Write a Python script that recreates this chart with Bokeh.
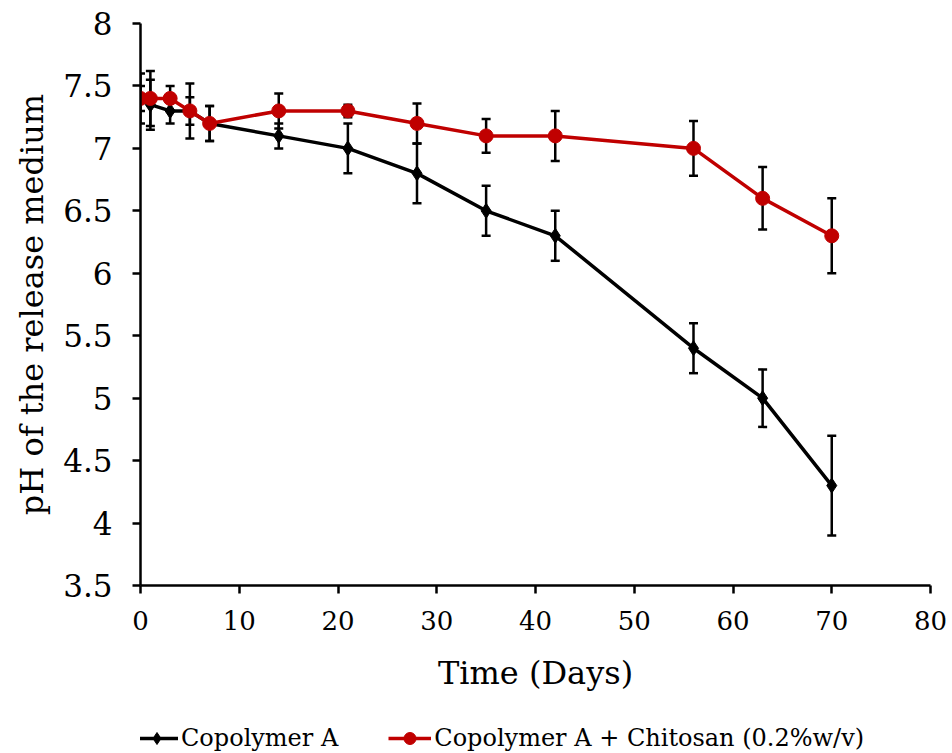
from bokeh.plotting import figure
from bokeh.layouts import column
from bokeh.models import (ColumnDataSource, Range1d, FixedTicker, Whisker, TeeHead,
                          Legend, LegendItem)
from bokeh.embed import file_html
from bokeh.resources import INLINE

# Sampling days
days = [0, 1, 3, 5, 7, 14, 21, 28, 35, 42, 56, 63, 70]

# Copolymer A: mean pH and standard deviation
ph_copolymer = [7.4, 7.35, 7.3, 7.3, 7.2, 7.1, 7.0, 6.8, 6.5, 6.3, 5.4, 5.0, 4.3]
sd_copolymer = [0.2, 0.2, 0.1, 0.11, 0.14, 0.1, 0.2, 0.24, 0.2, 0.2, 0.2, 0.23, 0.4]

# Copolymer A + Chitosan (0.2% w/v): mean pH and standard deviation
ph_chitosan = [7.4, 7.4, 7.4, 7.3, 7.2, 7.3, 7.3, 7.2, 7.1, 7.1, 7.0, 6.6, 6.3]
sd_chitosan = [0.1, 0.22, 0.1, 0.22, 0.14, 0.14, 0.05, 0.16, 0.135, 0.2, 0.22, 0.25, 0.3]

series_names = ["Copolymer A", "Copolymer A + Chitosan (0.2%w/v)"]

x_ticks = [0, 10, 20, 30, 40, 50, 60, 70, 80]
y_ticks = [3.5, 4, 4.5, 5, 5.5, 6, 6.5, 7, 7.5, 8]
y_tick_labels = ["3.5", "4", "4.5", "5", "5.5", "6", "6.5", "7", "7.5", "8"]

FONT = "DejaVu Serif"
RED = "#C00000"
W = 952
H_MAIN = 703
H_LEGEND = 50

src_a = ColumnDataSource(dict(
    x=days, y=ph_copolymer,
    lo=[m - s for m, s in zip(ph_copolymer, sd_copolymer)],
    hi=[m + s for m, s in zip(ph_copolymer, sd_copolymer)],
))
src_b = ColumnDataSource(dict(
    x=days, y=ph_chitosan,
    lo=[m - s for m, s in zip(ph_chitosan, sd_chitosan)],
    hi=[m + s for m, s in zip(ph_chitosan, sd_chitosan)],
))

p = figure(width=W, height=H_MAIN, output_backend="svg", toolbar_location=None,
           x_range=Range1d(0, 80), y_range=Range1d(3.5, 8),
           min_border_left=140, min_border_right=22, min_border_top=23,
           min_border_bottom=H_MAIN - 585)
p.outline_line_color = None
p.xgrid.visible = False
p.ygrid.visible = False
p.background_fill_color = "white"
p.border_fill_color = "white"

# Axes
for ax in (p.xaxis[0], p.yaxis[0]):
    ax.axis_line_color = "black"
    ax.axis_line_width = 2.5
    ax.major_tick_line_color = "black"
    ax.major_tick_line_width = 2.5
    ax.major_tick_out = 8
    ax.major_tick_in = 0
    ax.minor_tick_line_color = None
    ax.major_label_text_font = FONT
    ax.major_label_text_color = "black"
    ax.axis_label_text_font = FONT
    ax.axis_label_text_font_style = "normal"
    ax.axis_label_text_color = "black"

p.xaxis.ticker = FixedTicker(ticks=x_ticks)
p.xaxis.major_label_text_font_size = "26px"
p.xaxis.major_label_standoff = 17
p.xaxis.axis_label = "Time (Days)"
p.xaxis.axis_label_text_font_size = "32px"
p.xaxis.axis_label_standoff = 21

p.yaxis.ticker = FixedTicker(ticks=y_ticks)
p.yaxis.major_label_overrides = {t: l for t, l in zip(y_ticks, y_tick_labels)}
p.yaxis.major_label_text_font_size = "31px"
p.yaxis.major_label_standoff = 20
p.yaxis.axis_label = "pH of the release medium"
p.yaxis.axis_label_text_font_size = "32px"
p.yaxis.axis_label_standoff = 9

# Error bars (black for both series)
for src in (src_a, src_b):
    w = Whisker(source=src, base="x", lower="lo", upper="hi",
                line_color="black", line_width=2.5,
                upper_head=TeeHead(size=9, line_color="black", line_width=2.5),
                lower_head=TeeHead(size=9, line_color="black", line_width=2.5))
    p.add_layout(w)

# Series
STYLE_A = dict(line=dict(line_color="black", line_width=3.5),
               mark=dict(marker="diamond", size=15, fill_color="black", line_color="black"))
STYLE_B = dict(line=dict(line_color=RED, line_width=3.5),
               mark=dict(marker="circle", size=14, fill_color=RED, line_color=RED))

p.line("x", "y", source=src_a, **STYLE_A["line"])
p.scatter("x", "y", source=src_a, **STYLE_A["mark"])
p.line("x", "y", source=src_b, **STYLE_B["line"])
p.scatter("x", "y", source=src_b, **STYLE_B["mark"])

# Legend strip below the chart; its renderers reuse the series data but sit
# outside this strip's visible y range, so only the legend glyphs show.
lg = figure(width=W, height=H_LEGEND, output_backend="svg", toolbar_location=None,
            x_axis_type=None, y_axis_type=None,
            x_range=Range1d(0, 80), y_range=Range1d(100, 101), min_border=0)
lg.outline_line_color = None
lg.xgrid.visible = False
lg.ygrid.visible = False
items = []
for name, src, style in zip(series_names, (src_a, src_b), (STYLE_A, STYLE_B)):
    r_line = lg.line("x", "y", source=src, **style["line"])
    r_mark = lg.scatter("x", "y", source=src, **style["mark"])
    items.append(LegendItem(label=name, renderers=[r_line, r_mark]))

legend = Legend(items=items, orientation="horizontal", location=(-5, 0))
legend.label_text_font = FONT
legend.label_text_font_size = "24px"
legend.label_text_color = "black"
legend.glyph_width = 43
legend.glyph_height = 30
legend.label_standoff = 3
legend.spacing = 50
legend.padding = 0
legend.margin = 0
legend.border_line_color = None
legend.background_fill_alpha = 0
lg.add_layout(legend, "center")

page = column(p, lg, spacing=0)
open("out.html", "w").write(file_html(page, INLINE))
